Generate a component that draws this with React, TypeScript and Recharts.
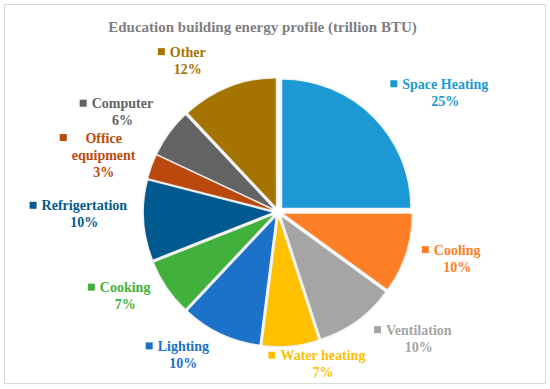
import { PieChart, Pie, Cell, Sector } from 'recharts'

const categories = [
  'Space Heating',
  'Cooling',
  'Ventilation',
  'Water heating',
  'Lighting',
  'Cooking',
  'Refrigertation',
  'Office equipment',
  'Computer',
  'Other',
]
const shares = [25, 10, 10, 7, 10, 7, 10, 3, 6, 12]
const colors = [
  '#1b9ad6',
  '#fe7f27',
  '#a5a5a5',
  '#ffc000',
  '#1a72c9',
  '#43b03c',
  '#055a8f',
  '#bb4a0a',
  '#636363',
  '#a57300',
]

// label nudges from the mid-angle position (layout only)
const labelNudge: Record<string, [number, number]> = {
  'Space Heating': [42, 12],
  Cooling: [10, -5],
  Ventilation: [37, -15],
  'Water heating': [30, -23],
  Lighting: [-16, -16],
  Cooking: [-2, -13],
  Refrigertation: [-12, -5],
  'Office equipment': [-3, 8],
  Computer: [-8, 10],
  Other: [-22, 20],
}

const data = categories.map((name, i) => ({ name, value: shares[i] }))

const RAD = Math.PI / 180
const EXPLODE = 6
const PIE_CX = 273
const PIE_CY = 207
const LABEL_CX = 276
const LABEL_CY = 208
const LABEL_R = 180
const FONT = "'Liberation Serif', 'Times New Roman', serif"
const FONT_SIZE = 14
const LINE_H = 17

let ctx: CanvasRenderingContext2D | null = null
function textWidth(s: string) {
  if (!ctx) ctx = document.createElement('canvas').getContext('2d')
  if (!ctx) return s.length * 7
  ctx.font = `bold ${FONT_SIZE}px ${FONT}`
  return ctx.measureText(s).width
}

function ExplodedSlice(props: any) {
  const { cx, cy, midAngle } = props
  const dx = EXPLODE * Math.cos(-midAngle * RAD)
  const dy = EXPLODE * Math.sin(-midAngle * RAD)
  return <Sector {...props} cx={cx + dx} cy={cy + dy} filter="url(#sliceShadow)" />
}

function renderLabel(props: any) {
  const { midAngle, index } = props
  const name = categories[index]
  const color = colors[index]
  const [nx, ny] = labelNudge[name] || [0, 0]
  const x = LABEL_CX + LABEL_R * Math.cos(-midAngle * RAD) + nx
  const y = LABEL_CY + LABEL_R * Math.sin(-midAngle * RAD) + ny

  const nameLines = textWidth(name) > 100 ? name.split(' ') : [name]
  const lines = [...nameLines, `${shares[index]}%`]
  const w = Math.max(...lines.map(textWidth))
  const top = y - ((lines.length - 1) * LINE_H) / 2

  return (
    <g key={`lbl-${index}`}>
      <rect x={x - w / 2 - 12} y={top - 4} width={7} height={7} fill={color} />
      {lines.map((l, i) => (
        <text
          key={i}
          x={x}
          y={top + i * LINE_H}
          textAnchor="middle"
          dominantBaseline="central"
          style={{ fontFamily: FONT, fontWeight: 'bold', fontSize: FONT_SIZE }}
          fill={color}
        >
          {l}
        </text>
      ))}
    </g>
  )
}

export default function App() {
  return (
    <div style={{ position: 'absolute', left: 0, top: 0, width: 550, height: 389, background: '#fff' }}>
      <svg width={0} height={0} style={{ position: 'absolute' }}>
        <defs>
          <filter id="sliceShadow" x="-20%" y="-20%" width="140%" height="140%">
            <feDropShadow dx="0" dy="0" stdDeviation="1.2" floodColor="#000" floodOpacity="0.22" />
          </filter>
        </defs>
      </svg>
      <div
        style={{
          position: 'absolute',
          left: 4,
          top: 4,
          width: 540,
          height: 378,
          border: '1px solid #d9d9d9',
        }}
      />
      <div
        style={{
          position: 'absolute',
          left: 0,
          top: 17,
          width: 525,
          textAlign: 'center',
          fontFamily: FONT,
          fontWeight: 'bold',
          fontSize: 15,
          color: '#7f7f7f',
          lineHeight: '20px',
        }}
      >
        Education building energy profile (trillion BTU)
      </div>
      <div style={{ position: 'absolute', left: 0, top: 0, fontFamily: FONT }}>
        <PieChart width={550} height={389}>
          <Pie
            data={data}
            dataKey="value"
            nameKey="name"
            cx={PIE_CX}
            cy={PIE_CY}
            outerRadius={128}
            startAngle={90}
            endAngle={-270}
            stroke="none"
            shape={ExplodedSlice}
            label={renderLabel}
            labelLine={false}
            isAnimationActive={false}
          >
            {data.map((d, i) => (
              <Cell key={d.name} fill={colors[i]} />
            ))}
          </Pie>
        </PieChart>
      </div>
    </div>
  )
}
